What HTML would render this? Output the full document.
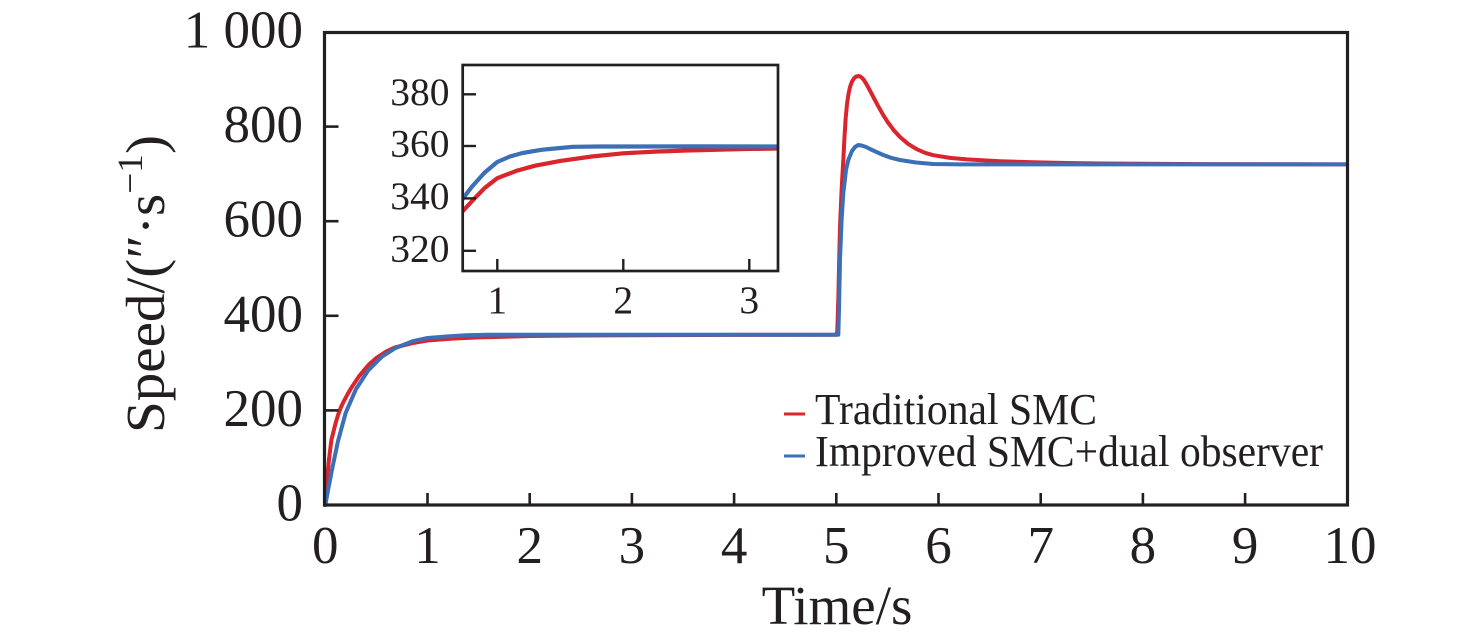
<!DOCTYPE html>
<html>
<head>
<meta charset="utf-8">
<style>
  html, body { margin: 0; padding: 0; background: #ffffff; }
  body { width: 1476px; height: 641px; overflow: hidden; }
  svg { display: block; }
  text { font-family: "Liberation Serif", "DejaVu Serif", serif; fill: #231f20; }
</style>
</head>
<body>
<svg width="1476" height="641" viewBox="0 0 1476 641" xmlns="http://www.w3.org/2000/svg">
  <rect x="0" y="0" width="1476" height="641" fill="#ffffff"/>

  <!-- Main curves -->
  <polyline fill="none" stroke="#d9252b" stroke-width="4" stroke-linejoin="round" stroke-linecap="round"
    points="325.3,505 326.8,483.7 328.9,460.1 331.4,439.7 335.5,423.6 338.0,415.1 340.6,408.0 343.7,401.4 347.8,393.8 351.4,387.7 359.0,376.3 368.0,365.5 376.4,357.9 386.6,351.3 394.8,347.5 412.2,343.2 427.5,340.5 452,338.6 478.6,337.4 529.7,336.0 580,335.5 631.9,335.2 734.1,334.9 836.3,334.7 837.3,331 838.3,300 839.2,260 840,226.7 841.6,190 843.3,160 844.5,137 845.7,118 847,104 848.5,94 850,87 852,81.5 854,78.3 856,76.6 858.3,76 860,76.4 862,77.8 864,80.2 866.7,84.5 870,90.7 874,98.3 878,105.8 883.3,115.2 888,122.5 894,130.5 900,137.0 908,143.8 916.7,149.2 925,152.8 933.3,155.2 950,157.9 966.7,159.4 1000,161.2 1033,162.3 1066,163.0 1100,163.5 1200,164.1 1347,164.4"/>
  <polyline fill="none" stroke="#3b6fb6" stroke-width="4" stroke-linejoin="round" stroke-linecap="round"
    points="325.3,505 328.4,488.4 332.5,467.2 338.0,441.1 345.7,412.8 356.0,389.1 368.0,370.7 381.5,357.0 394.8,348.4 412.2,341.3 427.5,338.0 447.9,336.4 466,335.3 486.8,334.8 600,334.7 836.3,334.7 838.3,334.7 839,310 840,260 841.5,222 843.3,193.3 846,170 848.3,160 852,151 855,147 858.3,145 862,145.6 866,147 870,149 876.5,152 883.3,155 891,157.8 900,160 916,162.5 933,164 960,164.4 1347,164.4"/>

  <!-- Main axes box -->
  <rect x="324.5" y="32.5" width="1023" height="472.5" fill="none" stroke="#231f20" stroke-width="3.2"/>
  <g stroke="#231f20" stroke-width="2.6">
    <line x1="427.5" y1="505" x2="427.5" y2="493"/>
    <line x1="529.7" y1="505" x2="529.7" y2="493"/>
    <line x1="631.9" y1="505" x2="631.9" y2="493"/>
    <line x1="734.1" y1="505" x2="734.1" y2="493"/>
    <line x1="836.3" y1="505" x2="836.3" y2="493"/>
    <line x1="938.5" y1="505" x2="938.5" y2="493"/>
    <line x1="1040.7" y1="505" x2="1040.7" y2="493"/>
    <line x1="1142.9" y1="505" x2="1142.9" y2="493"/>
    <line x1="1245.1" y1="505" x2="1245.1" y2="493"/>
    <line x1="324.5" y1="410.4" x2="338.5" y2="410.4"/>
    <line x1="324.5" y1="315.8" x2="338.5" y2="315.8"/>
    <line x1="324.5" y1="221.2" x2="338.5" y2="221.2"/>
    <line x1="324.5" y1="126.6" x2="338.5" y2="126.6"/>
  </g>

  <!-- x tick labels -->
  <g font-size="53" text-anchor="middle">
    <text x="325.3" y="563">0</text>
    <text x="427.5" y="563">1</text>
    <text x="529.7" y="563">2</text>
    <text x="631.9" y="563">3</text>
    <text x="734.1" y="563">4</text>
    <text x="836.3" y="563">5</text>
    <text x="938.5" y="563">6</text>
    <text x="1040.7" y="563">7</text>
    <text x="1142.9" y="563">8</text>
    <text x="1245.1" y="563">9</text>
    <text x="1350" y="563">10</text>
  </g>
  <!-- y tick labels -->
  <g font-size="53" text-anchor="end">
    <text x="303" y="520.5">0</text>
    <text x="303" y="425.9">200</text>
    <text x="303" y="331.3">400</text>
    <text x="303" y="236.7">600</text>
    <text x="303" y="142.1">800</text>
    <text x="303" y="47.5">1 000</text>
  </g>

  <!-- axis titles -->
  <text x="837" y="624" font-size="55" text-anchor="middle">Time/s</text>
  <text transform="translate(164,433) rotate(-90)" font-size="55" textLength="298" lengthAdjust="spacingAndGlyphs">Speed/(″·s<tspan font-size="36" dy="-22">−1</tspan><tspan dy="22">)</tspan></text>

  <!-- Legend -->
  <line x1="784" y1="414" x2="805" y2="414" stroke="#d9252b" stroke-width="3"/>
  <line x1="784" y1="456" x2="805" y2="456" stroke="#3b6fb6" stroke-width="3"/>
  <text x="815" y="424" font-size="44" textLength="282" lengthAdjust="spacingAndGlyphs">Traditional SMC</text>
  <text x="815" y="466" font-size="44" textLength="508" lengthAdjust="spacingAndGlyphs">Improved SMC+dual observer</text>

  <!-- Inset -->
  <defs>
    <clipPath id="insetClip">
      <rect x="462.7" y="65" width="315.3" height="206"/>
    </clipPath>
  </defs>
  <rect x="462.7" y="65" width="315.3" height="206" fill="#ffffff"/>
  <g clip-path="url(#insetClip)">
    <polyline fill="none" stroke="#d9252b" stroke-width="4.2" stroke-linejoin="round"
      points="459.5,216.7 462.5,211.5 472.1,201.0 484.7,187.9 497.3,178.2 516.2,170.9 535.1,165.7 560.3,160.9 591.8,156.5 623.3,153.3 655,151.6 686.3,150.5 749.3,148.9 787,148.4"/>
    <polyline fill="none" stroke="#3b6fb6" stroke-width="4.2" stroke-linejoin="round"
      points="459.5,206 462.5,199 472.1,186.5 484.7,172.5 497.3,162.0 509.9,156.5 522.5,153.0 541.4,149.8 560.3,148.0 572.9,146.8 600,146.5 623.3,146.5 700,146.4 787,146.5"/>
  </g>
  <rect x="462.7" y="65" width="315.3" height="206" fill="none" stroke="#231f20" stroke-width="2.7"/>
  <g stroke="#231f20" stroke-width="2.4">
    <line x1="462.7" y1="94.3" x2="476" y2="94.3"/>
    <line x1="462.7" y1="146" x2="476" y2="146"/>
    <line x1="462.7" y1="198.4" x2="476" y2="198.4"/>
    <line x1="462.7" y1="250.8" x2="476" y2="250.8"/>
    <line x1="497.3" y1="271" x2="497.3" y2="259"/>
    <line x1="623.3" y1="271" x2="623.3" y2="259"/>
    <line x1="749.3" y1="271" x2="749.3" y2="259"/>
  </g>
  <g font-size="39.5" text-anchor="end">
    <text x="449.5" y="105">380</text>
    <text x="449.5" y="156.7">360</text>
    <text x="449.5" y="209.1">340</text>
    <text x="449.5" y="261.5">320</text>
  </g>
  <g font-size="39.5" text-anchor="middle">
    <text x="497.3" y="313">1</text>
    <text x="623.3" y="313">2</text>
    <text x="749.3" y="313">3</text>
  </g>
</svg>
</body>
</html>
